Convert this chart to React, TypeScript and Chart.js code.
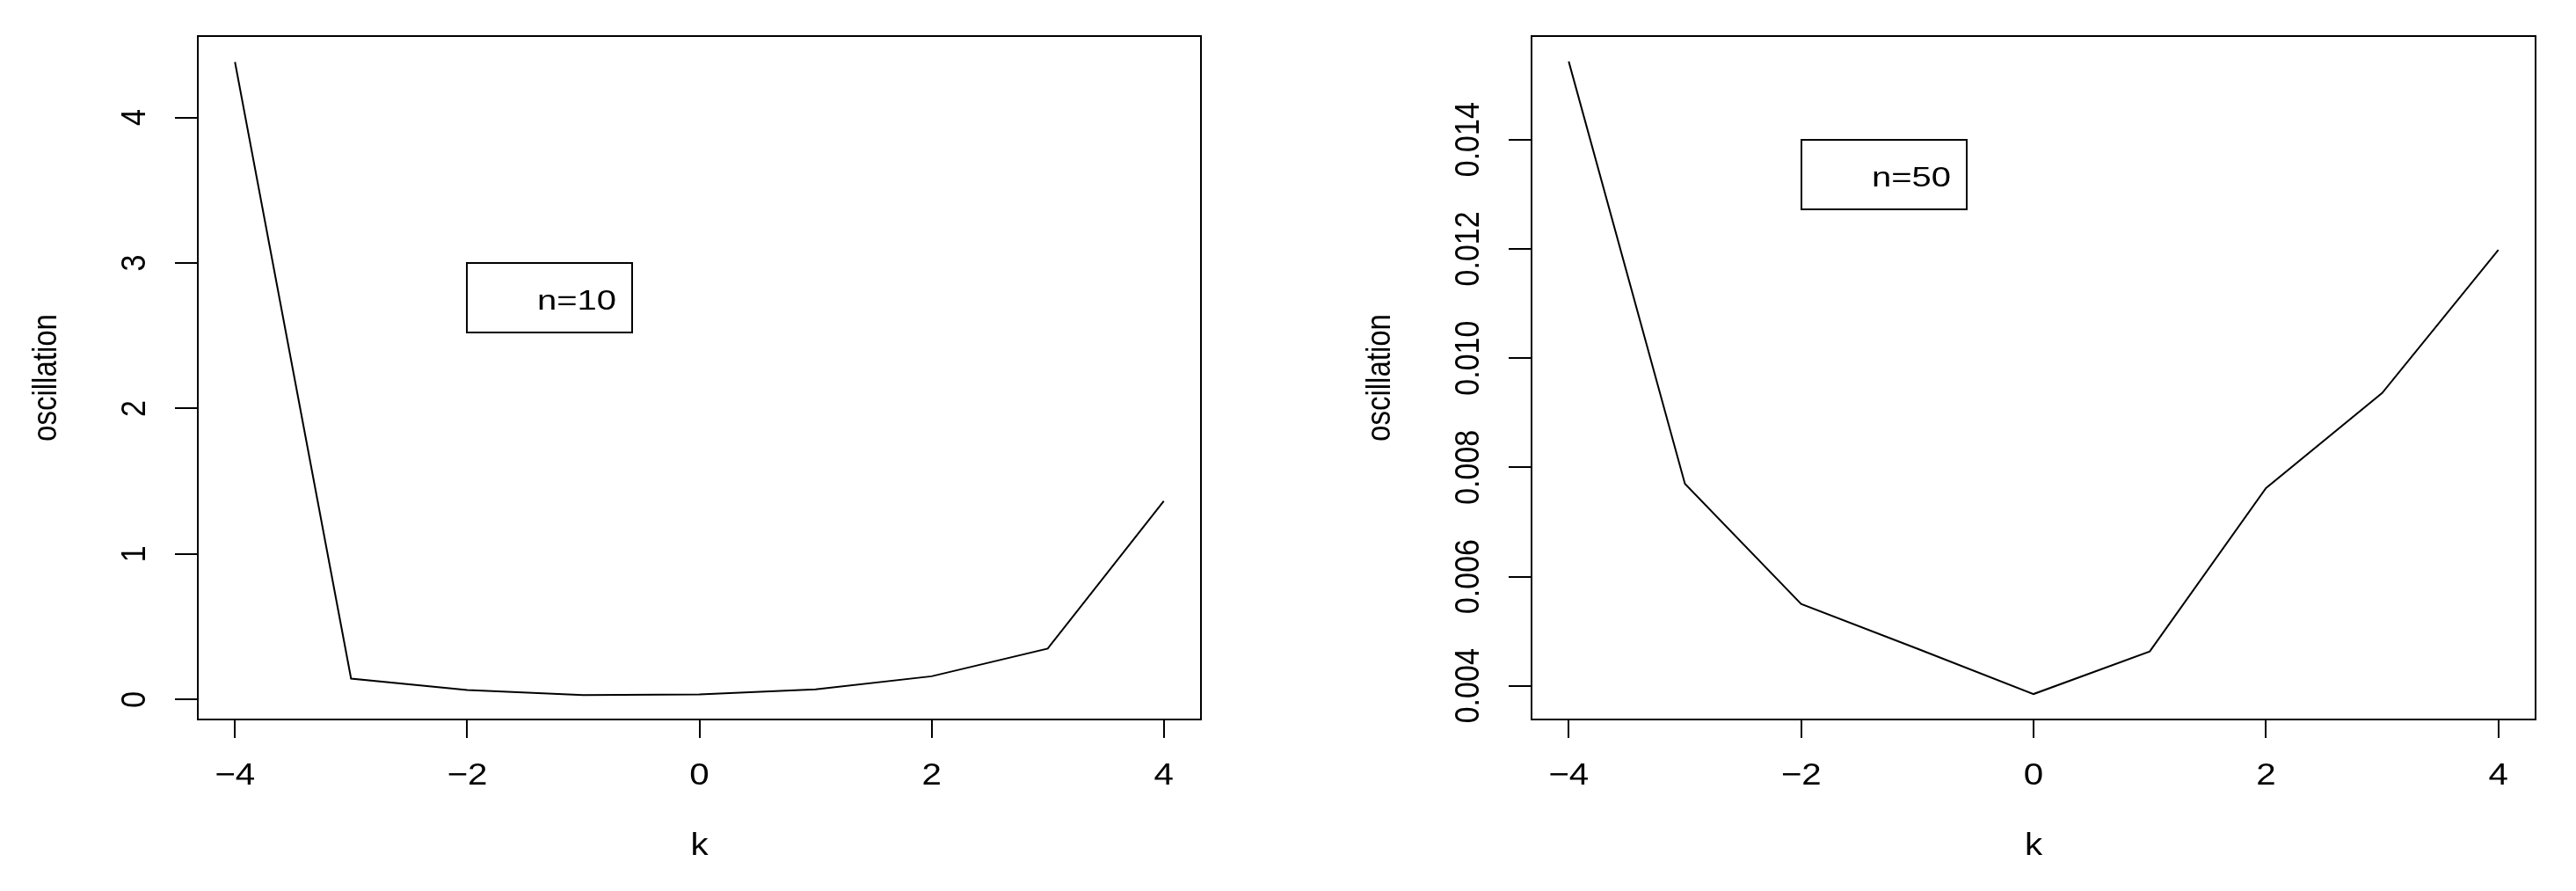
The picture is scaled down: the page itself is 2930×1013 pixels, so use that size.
import React, { useEffect, useRef } from "react";
import { Chart, registerables } from "chart.js";

Chart.register(...registerables);

// ---- data ----
const kValues = [-4, -3, -2, -1, 0, 1, 2, 3, 4];
const oscN10 = [4.382, 0.144, 0.066, 0.031, 0.036, 0.07, 0.16, 0.35, 1.365];
const oscN50 = [0.01543, 0.0077, 0.0055, 0.00468, 0.00385, 0.00463, 0.00762, 0.00936, 0.01198];

const xTicks = [-4, -2, 0, 2, 4];
const xTickLabels = ["\u22124", "\u22122", "0", "2", "4"];
const yTicksN10 = [0, 1, 2, 3, 4];
const yTickLabelsN10 = ["0", "1", "2", "3", "4"];
const yTicksN50 = [0.004, 0.006, 0.008, 0.01, 0.012, 0.014];
const yTickLabelsN50 = ["0.004", "0.006", "0.008", "0.010", "0.012", "0.014"];

const xTitle = "k";
const yTitle = "oscillation";
const legendN10 = "n=10";
const legendN50 = "n=50";
const legendPosN10 = [-2, 3];
const legendPosN50 = [-2, 0.014];

const FONT = '"Liberation Sans", Arial, Helvetica, sans-serif';
const SX = 1.15;

function drawText(ctx: CanvasRenderingContext2D, s: string, x: number, y: number, rotate: boolean, align: CanvasTextAlign, size: number, sx: number) {
  ctx.save();
  ctx.translate(x, y);
  ctx.scale(sx, 1);
  if (rotate) ctx.rotate(-Math.PI / 2);
  ctx.font = `${size}px ${FONT}`;
  ctx.textAlign = align;
  ctx.textBaseline = "alphabetic";
  ctx.fillStyle = "#000";
  ctx.fillText(s, 0, 0);
  ctx.restore();
}

const rStyle = {
  id: "rStyle",
  afterDraw(chart: any, _args: any, o: any) {
    const ctx: CanvasRenderingContext2D = chart.ctx;
    const { left, right, top, bottom } = chart.chartArea;
    const xs = chart.scales.x;
    const ys = chart.scales.y;
    ctx.save();
    ctx.strokeStyle = "#000";
    ctx.lineWidth = 2;
    ctx.strokeRect(left, top, right - left, bottom - top);

    ctx.beginPath();
    const xa = xs.getPixelForValue(o.xTicks[0]);
    const xb = xs.getPixelForValue(o.xTicks[o.xTicks.length - 1]);
    ctx.moveTo(xa, bottom);
    ctx.lineTo(xb, bottom);
    o.xTicks.forEach((v: number) => {
      const p = Math.round(xs.getPixelForValue(v));
      ctx.moveTo(p, bottom);
      ctx.lineTo(p, bottom + 21);
    });
    const ya = ys.getPixelForValue(o.yTicks[0]);
    const yb = ys.getPixelForValue(o.yTicks[o.yTicks.length - 1]);
    ctx.moveTo(left, ya);
    ctx.lineTo(left, yb);
    o.yTicks.forEach((v: number) => {
      const p = Math.round(ys.getPixelForValue(v));
      ctx.moveTo(left - 26, p);
      ctx.lineTo(left, p);
    });
    ctx.stroke();

    o.xTicks.forEach((v: number, i: number) => {
      drawText(ctx, o.xTickLabels[i], xs.getPixelForValue(v), bottom + 74, false, "center", 35, SX);
    });
    o.yTicks.forEach((v: number, i: number) => {
      drawText(ctx, o.yTickLabels[i], left - 60, ys.getPixelForValue(v), true, "center", 34, SX);
    });
    drawText(ctx, o.xTitle, (left + right) / 2, bottom + 154, false, "center", 35, SX);
    drawText(ctx, o.yTitle, left - 161, (top + bottom) / 2, true, "center", 33, SX);

    // legend
    const lx = Math.round(xs.getPixelForValue(o.legendPos[0]));
    const ly = Math.round(ys.getPixelForValue(o.legendPos[1]));
    const lw = 188;
    const lh = 79;
    ctx.lineWidth = 2;
    ctx.strokeRect(lx, ly, lw, lh);
    drawText(ctx, o.legend, lx + lw - 18, ly + 53, false, "right", 32, 1.25);
    ctx.restore();
  },
};

interface PanelProps {
  values: number[];
  yMin: number;
  yMax: number;
  yTicks: number[];
  yTickLabels: string[];
  legend: string;
  legendPos: number[];
  padLeft: number;
  padRight: number;
  offsetX: number;
}

function Panel(p: PanelProps) {
  const ref = useRef<HTMLCanvasElement | null>(null);
  useEffect(() => {
    if (!ref.current) return;
    const chart = new Chart(ref.current, {
      type: "line",
      data: {
        datasets: [
          {
            data: kValues.map((k, i) => ({ x: k, y: p.values[i] })),
            borderColor: "#000",
            borderWidth: 2,
            pointRadius: 0,
            fill: false,
            tension: 0,
          },
        ],
      },
      options: {
        animation: false,
        responsive: false,
        maintainAspectRatio: false,
        layout: { padding: { left: p.padLeft, right: p.padRight, top: 41, bottom: 195 } },
        scales: {
          x: { type: "linear", min: -4.32, max: 4.32, display: false },
          y: { type: "linear", min: p.yMin, max: p.yMax, display: false },
        },
        plugins: {
          legend: { display: false },
          tooltip: { enabled: false },
          rStyle: {
            xTicks,
            xTickLabels,
            yTicks: p.yTicks,
            yTickLabels: p.yTickLabels,
            xTitle,
            yTitle,
            legend: p.legend,
            legendPos: p.legendPos,
          },
        } as any,
      },
      plugins: [rStyle as any],
    });
    return () => chart.destroy();
  }, []);
  return (
    <canvas
      ref={ref}
      width={1465}
      height={1013}
      style={{ position: "absolute", left: p.offsetX, top: 0, width: 1465, height: 1013 }}
    />
  );
}

export default function App() {
  return (
    <div style={{ position: "absolute", left: 0, top: 0, width: 2930, height: 1013, background: "#fff" }}>
      <Panel
        values={oscN10}
        yMin={-0.137}
        yMax={4.56}
        yTicks={yTicksN10}
        yTickLabels={yTickLabelsN10}
        legend={legendN10}
        legendPos={legendPosN10}
        padLeft={225}
        padRight={99}
        offsetX={0}
      />
      <Panel
        values={oscN50}
        yMin={0.003384}
        yMax={0.015895}
        yTicks={yTicksN50}
        yTickLabels={yTickLabelsN50}
        legend={legendN50}
        legendPos={legendPosN50}
        padLeft={277}
        padRight={46}
        offsetX={1465}
      />
    </div>
  );
}
